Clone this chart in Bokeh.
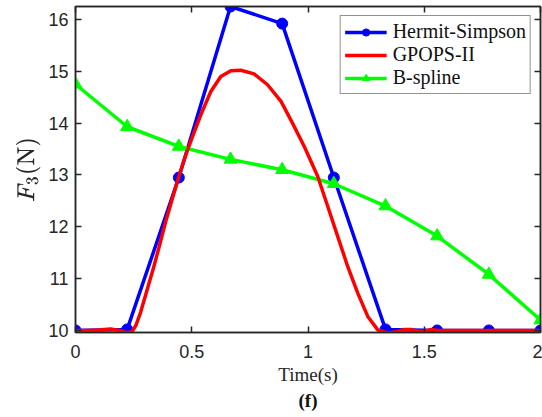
from bokeh.plotting import figure
from bokeh.models import (LinearAxis, Range1d, Legend, LegendItem, FixedTicker,
                          CustomJSTickFormatter, Title)
from bokeh.embed import file_html
from bokeh.resources import INLINE

# ---- data ----
t_nodes = [0, 0.2222, 0.4444, 0.6667, 0.8889, 1.1111, 1.3333, 1.5556, 1.7778, 2.0]
hermit_simpson = [10.0, 10.02, 12.95, 16.25, 15.92, 12.95, 10.02, 10.0, 10.0, 10.0]
bspline = [14.75, 13.93, 13.55, 13.3, 13.1, 12.83, 12.4, 11.82, 11.08, 10.2]

t_gpops = [0, 0.05, 0.10, 0.15, 0.19, 0.223, 0.244, 0.26, 0.28, 0.309, 0.338, 0.359,
           0.388, 0.417, 0.445, 0.474, 0.50, 0.539, 0.582, 0.625, 0.668, 0.711, 0.768,
           0.826, 0.884, 0.93, 0.984, 1.042, 1.085, 1.128, 1.171, 1.214, 1.257, 1.30,
           1.343, 1.386, 1.414, 1.444, 1.47, 1.5, 1.53, 1.56, 2.0]
gpops = [10.0, 10.0, 10.01, 10.03, 10.0, 9.95, 9.98, 10.1, 10.35, 10.8, 11.25, 11.6,
         12.1, 12.55, 12.98, 13.38, 13.7, 14.16, 14.61, 14.9, 15.01, 15.02, 14.95,
         14.74, 14.42, 14.03, 13.55, 12.97, 12.39, 11.81, 11.23, 10.72, 10.27, 10.01,
         9.95, 9.98, 10.02, 10.02, 9.99, 9.98, 10.02, 10.0, 10.0]

x_ticks = [0, 0.5, 1, 1.5, 2]
x_tick_labels = ["0", "0.5", "1", "1.5", "2"]
y_ticks = [10, 11, 12, 13, 14, 15, 16]

AX = "#262626"
TICK_FONT = "'Liberation Sans', Arial, sans-serif"
SERIF = "'Liberation Serif', 'Times New Roman', serif"

p = figure(width=542, height=417, output_backend="svg", toolbar_location=None,
           x_range=Range1d(0, 2), y_range=Range1d(9.96, 16.25),
           min_border_left=75, min_border_right=2, min_border_top=6, min_border_bottom=85)
p.grid.visible = False
p.outline_line_color = AX
p.outline_line_width = 1.5
p.background_fill_color = "white"
p.border_fill_color = "white"

def style_axis(ax, ticks, show_labels=True):
    ax.ticker = FixedTicker(ticks=ticks)
    ax.minor_tick_line_color = None
    ax.major_tick_in = 6
    ax.major_tick_out = 0
    ax.axis_line_color = AX
    ax.axis_line_width = 1.5
    ax.major_tick_line_color = AX
    ax.major_tick_line_width = 1.5
    if show_labels:
        ax.major_label_text_font = TICK_FONT
        ax.major_label_text_font_size = "18px"
        ax.major_label_text_color = AX
    else:
        ax.formatter = CustomJSTickFormatter(code="return '';")
        ax.major_label_text_font_size = "1px"
        ax.major_label_standoff = 0

style_axis(p.xaxis[0], x_ticks)
p.xaxis[0].major_label_overrides = {t: l for t, l in zip(x_ticks, x_tick_labels)}
p.xaxis[0].major_label_standoff = 12
p.xaxis[0].axis_label = "Time(s)"
p.xaxis[0].axis_label_text_font = SERIF
p.xaxis[0].axis_label_text_font_style = "normal"
p.xaxis[0].axis_label_text_font_size = "19px"
p.xaxis[0].axis_label_text_color = AX
p.xaxis[0].axis_label_standoff = 3

style_axis(p.yaxis[0], y_ticks)
p.yaxis[0].major_label_standoff = 7
p.yaxis[0].axis_label = r"$$F_3(\mathrm{N})$$"
p.yaxis[0].axis_label_text_font_size = "20px"
p.yaxis[0].axis_label_text_color = AX
p.yaxis[0].axis_label_standoff = 5

top = LinearAxis()
style_axis(top, x_ticks, show_labels=False)
p.add_layout(top, "above")
right = LinearAxis()
style_axis(right, y_ticks, show_labels=False)
p.add_layout(right, "right")

# ---- series ----
hs_line = p.line(t_nodes, hermit_simpson, line_color="#0000FF", line_width=3.5)
hs_pts = p.scatter(t_nodes, hermit_simpson, marker="circle", size=11,
                   fill_color="#0000FF", line_color="#0000FF")
bs_line = p.line(t_nodes, bspline, line_color="#00FF00", line_width=3.5)
bs_pts = p.scatter(t_nodes, bspline, marker="triangle", size=13,
                   fill_color="#00FF00", line_color="#00FF00")
gp_line = p.line(t_gpops, gpops, line_color="#FF0000", line_width=3.5,
                 line_join="round")

legend = Legend(items=[
    LegendItem(label="Hermit-Simpson", renderers=[hs_line, hs_pts]),
    LegendItem(label="GPOPS-II", renderers=[gp_line]),
    LegendItem(label="B-spline", renderers=[bs_line, bs_pts]),
], location="top_right")
legend.label_text_font = SERIF
legend.label_text_font_size = "20px"
legend.label_text_color = "#111111"
legend.border_line_color = AX
legend.border_line_width = 1.2
legend.background_fill_color = "white"
legend.background_fill_alpha = 1
legend.glyph_width = 42
legend.glyph_height = 18
legend.spacing = 0
legend.padding = 4
legend.margin = 9
legend.label_standoff = 6
p.add_layout(legend)

title = Title(text="(f)", align="center", text_font=SERIF, text_font_style="bold",
              text_font_size="19px", text_color="#111111", standoff=0, offset=0)
p.add_layout(title, "below")

open("out.html", "w").write(file_html(p, INLINE))
